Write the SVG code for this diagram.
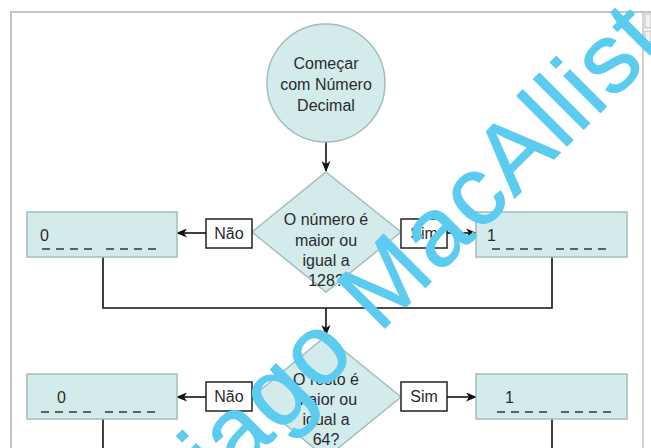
<svg xmlns="http://www.w3.org/2000/svg" width="651" height="448" viewBox="0 0 651 448">
<defs>
<marker id="ah" markerUnits="userSpaceOnUse" markerWidth="11" markerHeight="9" refX="10" refY="4.5" orient="auto">
<path d="M0,0 L11,4.5 L0,9 L3,4.5 z" fill="#111"/>
</marker>
<style>
.frame{stroke:#c4c4c4;stroke-width:2;fill:none}
.node{fill:#d4ebeb;stroke:#a3bcbc;stroke-width:1.5}
.lab{fill:#fff;stroke:#222;stroke-width:1.5}
.t{font-family:"Liberation Sans",Arial,sans-serif;font-size:16px;fill:#2a2a2a;text-anchor:middle}
.tl{font-family:"Liberation Sans",Arial,sans-serif;font-size:16px;fill:#2a2a2a}
.dash{stroke:#333;stroke-width:1.6;stroke-dasharray:8 6 8 6 8 6 8 14}
.con{stroke:#111;stroke-width:1.6;fill:none}
.arr{stroke:#111;stroke-width:1.6;fill:none;marker-end:url(#ah)}
.wm{font-family:"Liberation Sans",Arial,sans-serif;font-size:98px;fill:#5ccbf0;stroke:#5ccbf0;stroke-width:1;stroke-linejoin:round;letter-spacing:2px}
</style>
</defs>
<rect width="651" height="448" fill="#fff"/>
<g id="frame">
<line class="frame" x1="10" y1="12" x2="651" y2="12"/>
<line class="frame" x1="11" y1="12" x2="11" y2="448"/>
<line class="frame" x1="643" y1="12" x2="643" y2="448" style="stroke-width:1.5"/>
<rect x="645" y="14" width="6" height="14" fill="#f2f2f2" stroke="#bbb"/>
<rect x="645" y="31" width="6" height="11" fill="#f2f2f2" stroke="#bbb"/>
</g>
<g id="connectors">
<line class="arr" x1="326" y1="142" x2="326" y2="171"/>
<line class="arr" x1="206" y1="233" x2="177" y2="233"/>
<line class="arr" x1="447" y1="233" x2="476" y2="233"/>
<polyline class="con" points="103,257 103,308 552,308 552,257"/>
<line class="arr" x1="326" y1="308" x2="326" y2="335"/>
<line class="arr" x1="206" y1="397" x2="177" y2="397"/>
<line class="arr" x1="447" y1="397" x2="476" y2="397"/>
<line class="con" x1="103" y1="419" x2="103" y2="448"/>
<line class="con" x1="552" y1="419" x2="552" y2="448"/>
</g>
<g id="start">
<circle class="node" cx="326" cy="83" r="59"/>
<text class="t" x="326" y="69">Começar</text>
<text class="t" x="326" y="90">com Número</text>
<text class="t" x="326" y="111">Decimal</text>
</g>
<g id="decision1">
<polygon class="node" points="326,172 401,232 326,292 252,232"/>
<text class="t" x="326" y="225">O número é</text>
<text class="t" x="326" y="246">maior ou</text>
<text class="t" x="326" y="266">igual a</text>
<text class="t" x="326" y="286">128?</text>
</g>
<g id="nao1">
<rect class="lab" x="206" y="219" width="46" height="29"/>
<text class="t" x="229" y="239">Não</text>
</g>
<g id="sim1">
<rect class="lab" x="401" y="219" width="46" height="29"/>
<text class="t" x="424" y="239">Sim</text>
</g>
<g id="bit0a">
<rect class="node" x="27" y="212" width="150" height="45"/>
<text class="tl" x="40" y="241">0</text>
<line class="dash" x1="42" y1="249" x2="162" y2="249"/>
</g>
<g id="bit1a">
<rect class="node" x="476" y="212" width="151" height="45"/>
<text class="tl" x="487" y="241">1</text>
<line class="dash" x1="492" y1="249" x2="612" y2="249"/>
</g>
<g id="decision2">
<polygon class="node" points="326,336 401,397 326,458 252,397"/>
<text class="t" x="326" y="385">O resto é</text>
<text class="t" x="326" y="405">maior ou</text>
<text class="t" x="326" y="425">igual a</text>
<text class="t" x="326" y="445">64?</text>
</g>
<g id="nao2">
<rect class="lab" x="206" y="382" width="46" height="29"/>
<text class="t" x="229" y="402">Não</text>
</g>
<g id="sim2">
<rect class="lab" x="401" y="382" width="46" height="29"/>
<text class="t" x="424" y="402">Sim</text>
</g>
<g id="bit0b">
<rect class="node" x="27" y="374" width="150" height="45"/>
<text class="tl" x="57" y="403">0</text>
<line class="dash" x1="41" y1="412" x2="161" y2="412"/>
</g>
<g id="bit1b">
<rect class="node" x="476" y="374" width="151" height="45"/>
<text class="tl" x="505" y="403">1</text>
<line class="dash" x1="497" y1="412" x2="617" y2="412"/>
</g>
<text class="wm" transform="translate(222,491) rotate(-45)">iago MacAllist</text>
</svg>
